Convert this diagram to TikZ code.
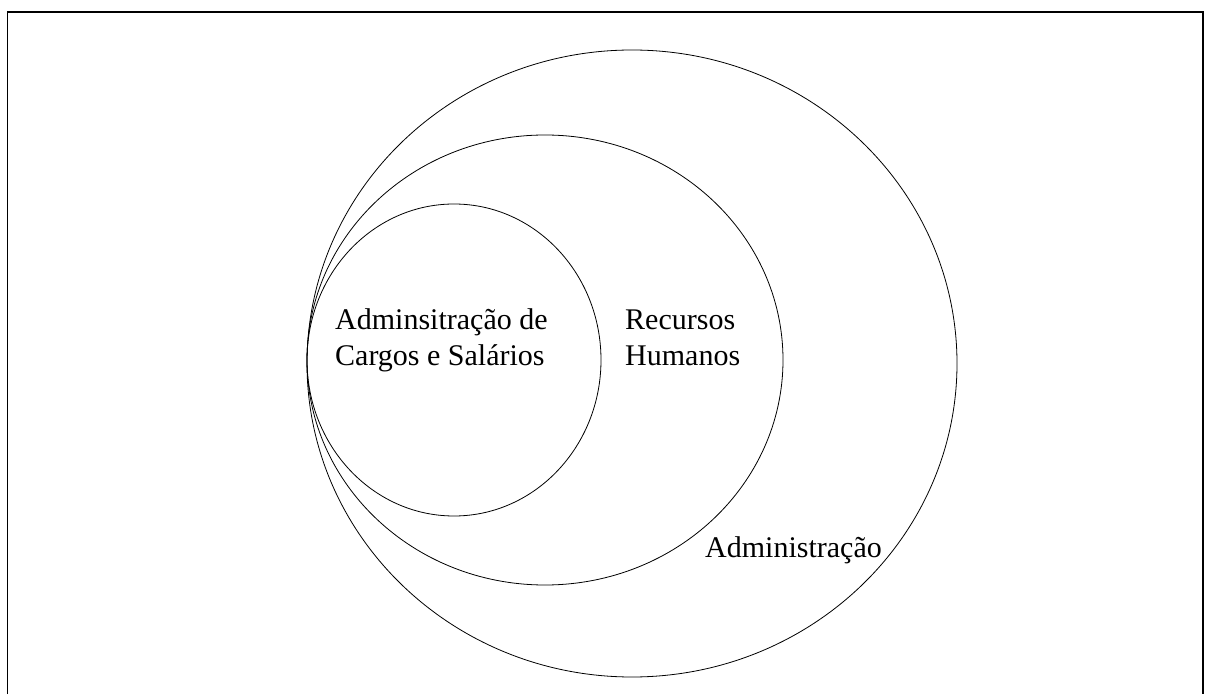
\documentclass[tikz,border=0pt]{standalone}
\usepackage{fontspec}
\setmainfont{Liberation Serif}
\usetikzlibrary{shapes.geometric,positioning}

\begin{document}
\begin{tikzpicture}[
    x=1pt, y=1pt,
    set/.style={ellipse, draw=black, line width=0.8pt, inner sep=0pt},
    setlabel/.style={font=\fontsize{30}{36}\selectfont, align=left, inner sep=0pt, anchor=base west}
]
    \useasboundingbox (0,0) rectangle (1205,694);
    \draw[line width=1.5pt] (7.5,0) |- (1203,682) -- (1203,0);

    \node (adm) [set, minimum width=650pt, minimum height=627pt] at (632,330.5) {};
    \node (rh) [set, minimum width=476pt, minimum height=450pt] at (545,334) {};
    \node (acs) [set, minimum width=294pt, minimum height=312pt] at (454,334) {};

    % base of a two-line label is its last line
    \node (acstext) [setlabel] at (335,328) {Adminsitração de\\Cargos e Salários};
    \node (rhtext) [setlabel] at (625,328) {Recursos\\Humanos};
    \node (admtext) [setlabel] at (705,137) {Administração};
\end{tikzpicture}
\end{document}
